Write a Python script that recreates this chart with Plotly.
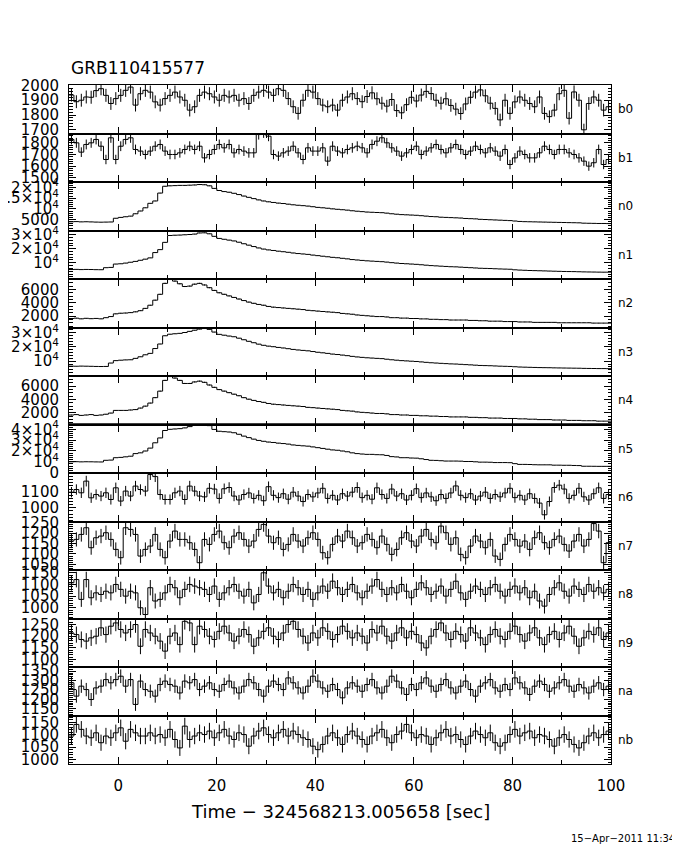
import numpy as np
import plotly.graph_objects as go
from plotly.subplots import make_subplots

# ---------------- text ----------------
title_text = "GRB110415577"
x_title = "Time − 324568213.005658 [sec]"
date_stamp = "15−Apr−2011 11:34"

# ---------------- time binning ----------------
bin_start = -10.0
bin_width = 1.0

# ---------------- counts per 1-s bin, one list per detector ----------------
b0_counts = [1935, 1890, 1900, 1922, 1920, 1965, 1978, 1933, 1878, 1911,
             1933, 1967, 1989, 1867, 1944, 1967, 1955, 1889, 1867, 1911,
             1933, 1955, 1922, 1900, 1833, 1856, 1933, 1955, 1944, 1922,
             1900, 1933, 1922, 1933, 1900, 1911, 1878, 1933, 1955, 1967,
             1955, 1933, 1978, 1967, 1911, 1856, 1811, 1900, 1967, 1955,
             1911, 1867, 1856, 1867, 1833, 1900, 1922, 1944, 1911, 1890,
             1925, 1950, 1910, 1880, 1860, 1905, 1830, 1815, 1870, 1920,
             1895, 1935, 1960, 1945, 1900, 1880, 1910, 1865, 1840, 1810,
             1875, 1920, 1955, 1970, 1930, 1880, 1845, 1767, 1900, 1811,
             1889, 1922, 1900, 1878, 1856, 1922, 1811, 1789, 1833, 1944,
             1967, 1778, 1956, 1900, 1700, 1878, 1922, 1900, 1833, 1856]
b1_counts = [1829, 1800, 1720, 1786, 1800, 1829, 1771, 1657, 1843, 1657,
             1771, 1829, 1843, 1743, 1729, 1700, 1729, 1771, 1786, 1729,
             1700, 1700, 1714, 1743, 1771, 1743, 1771, 1671, 1700, 1743,
             1786, 1757, 1786, 1714, 1743, 1729, 1714, 1714, 1871, 1886,
             1857, 1700, 1686, 1714, 1729, 1771, 1714, 1657, 1757, 1729,
             1729, 1757, 1643, 1771, 1729, 1714, 1743, 1757, 1771, 1757,
             1714, 1786, 1814, 1843, 1800, 1757, 1729, 1686, 1714, 1743,
             1771, 1700, 1729, 1757, 1786, 1743, 1714, 1757, 1786, 1743,
             1700, 1729, 1771, 1743, 1714, 1757, 1729, 1686, 1743, 1614,
             1671, 1729, 1700, 1671, 1671, 1714, 1771, 1743, 1700, 1743,
             1743, 1714, 1700, 1671, 1643, 1600, 1629, 1743, 1614, 1657]
n0_counts = [3940, 4030, 3900, 3960, 3880, 3800, 3760, 3800, 3850, 5600,
             6000, 6300, 6600, 7700, 9000, 10500, 12600, 13700, 17400, 20600,
             20800, 20900, 21000, 21000, 21100, 21200, 21400, 21300, 20800, 19600,
             18600, 18100, 17800, 17300, 16700, 16000, 15400, 14800, 14200, 13700,
             13300, 13000, 12700, 12500, 12200, 11900, 11700, 11500, 11300, 11000,
             10700, 10500, 10300, 10000, 9800, 9600, 9400, 9100, 8900, 8700,
             8500, 8400, 8300, 8200, 8000, 7700, 7500, 7300, 7200, 7100,
             7000, 6800, 6600, 6400, 6300, 6100, 6000, 5900, 5800, 5700,
             5500, 5400, 5300, 5100, 5000, 4900, 4800, 4700, 4600, 4500,
             4300, 4100, 4000, 3950, 3900, 3850, 3800, 3750, 3700, 3650,
             3600, 3550, 3500, 3450, 3300, 3250, 3200, 3150, 3150, 3100]
n1_counts = [5200, 5300, 5150, 5250, 5200, 5100, 5050, 6500, 6700, 9100,
             9300, 9800, 10400, 11000, 11800, 12600, 13500, 17300, 19400, 24600,
             29500, 29700, 29800, 30000, 30200, 30500, 31300, 31400, 30700, 28900,
             27400, 26800, 26200, 25600, 24700, 23600, 22600, 21600, 20600, 19800,
             19200, 18800, 18300, 17900, 17500, 17000, 16600, 16300, 16000, 15500,
             15100, 14700, 14300, 13900, 13600, 13200, 12800, 12300, 12000, 11700,
             11400, 11200, 11000, 10800, 10500, 10100, 9800, 9500, 9300, 9100,
             8900, 8600, 8300, 8000, 7800, 7600, 7400, 7200, 7100, 6900,
             6700, 6500, 6300, 6100, 6000, 5900, 5750, 5600, 5500, 5400,
             5000, 4800, 4650, 4500, 4400, 4300, 4200, 4100, 4000, 3900,
             3800, 3750, 3700, 3600, 3500, 3450, 3400, 3350, 3300, 3300]
n2_counts = [1650, 1700, 1600, 1680, 1620, 1660, 1600, 1770, 1940, 2350,
             2440, 2470, 2530, 2650, 2820, 3170, 3640, 4400, 5280, 6920,
             7500, 7260, 6860, 6450, 6510, 6800, 6920, 6680, 6270, 5860,
             5510, 5280, 5040, 4810, 4570, 4340, 4110, 3930, 3760, 3640,
             3460, 3350, 3290, 3230, 3170, 3110, 3050, 2990, 2880, 2820,
             2760, 2700, 2640, 2590, 2530, 2410, 2350, 2290, 2180, 2120,
             2060, 2000, 1940, 1940, 1880, 1770, 1770, 1710, 1710, 1650,
             1650, 1590, 1590, 1530, 1530, 1480, 1480, 1420, 1420, 1420,
             1420, 1360, 1360, 1310, 1310, 1250, 1250, 1250, 1190, 1190,
             1190, 1130, 1130, 1130, 1070, 1070, 1070, 1070, 1070, 1010,
             1010, 1010, 1010, 1010, 1010, 1010, 960, 960, 960, 960]
n3_counts = [6500, 6450, 6550, 6480, 6400, 6300, 6250, 6300, 8700, 10400,
             10700, 10900, 11000, 12000, 13100, 14500, 15500, 18900, 22100, 27900,
             29000, 29300, 29600, 30200, 31000, 31800, 32600, 33000, 32400, 30500,
             28900, 28300, 27700, 27200, 26200, 25100, 24000, 23000, 22000, 21200,
             20600, 20200, 19700, 19300, 18800, 18300, 17900, 17600, 17300, 16800,
             16300, 15900, 15500, 15000, 14700, 14300, 13900, 13400, 13000, 12700,
             12400, 12200, 12000, 11800, 11400, 11000, 10700, 10400, 10200, 10000,
             9800, 9500, 9200, 8900, 8700, 8500, 8300, 8100, 8000, 7800,
             7600, 7400, 7200, 7000, 6900, 6800, 6650, 6500, 6400, 6300,
             6100, 5900, 5800, 5700, 5600, 5500, 5450, 5400, 5300, 5250,
             5200, 5150, 5100, 5050, 4950, 4900, 4850, 4800, 4800, 4750]
n4_counts = [1680, 1740, 1620, 1680, 1740, 1620, 1680, 1795, 1970, 2370,
             2370, 2370, 2430, 2490, 2720, 3010, 3470, 4280, 5260, 6870,
             7450, 7220, 6870, 6410, 6410, 6640, 6760, 6580, 6180, 5830,
             5490, 5260, 5030, 4800, 4570, 4280, 4050, 3870, 3700, 3580,
             3410, 3300, 3240, 3180, 3120, 3060, 3010, 2950, 2830, 2780,
             2720, 2660, 2600, 2550, 2490, 2370, 2310, 2260, 2140, 2080,
             2030, 1970, 1910, 1910, 1850, 1740, 1740, 1680, 1680, 1620,
             1620, 1560, 1560, 1510, 1510, 1450, 1450, 1390, 1390, 1390,
             1390, 1330, 1330, 1280, 1280, 1220, 1220, 1220, 1160, 1160,
             1160, 1100, 1100, 1050, 1050, 990, 990, 990, 930, 930,
             930, 870, 870, 870, 820, 820, 820, 760, 760, 760]
n5_counts = [9900, 10000, 9850, 9950, 9900, 9800, 9750, 11300, 11500, 13700,
             14000, 14500, 15100, 17500, 18200, 19900, 22600, 27500, 32000, 38900,
             40000, 40300, 40600, 41300, 42500, 43800, 44300, 44400, 43400, 39900,
             38200, 37800, 37500, 36800, 35400, 33700, 32300, 30900, 29700, 28900,
             28200, 27800, 27200, 26800, 26300, 25500, 25100, 24700, 24400, 23700,
             23000, 22300, 21600, 20900, 20600, 19900, 19200, 18200, 17500, 17100,
             16800, 16800, 16500, 16400, 15800, 14700, 14400, 13700, 13700, 13400,
             13300, 12700, 12000, 11300, 11200, 10900, 10600, 10600, 10600, 10500,
             10200, 10200, 9900, 9600, 9600, 9500, 9200, 9200, 9200, 9100,
             8200, 7500, 7500, 7400, 7200, 7100, 7100, 7100, 6800, 6800,
             6700, 6700, 6500, 6400, 5800, 5800, 5750, 5700, 5700, 5700]
n6_counts = [1100, 1117, 1096, 1171, 1064, 1085, 1075, 1096, 1053, 1128,
             1043, 1107, 1075, 1139, 1117, 1107, 1213, 1200, 1085, 1053,
             1053, 1096, 1107, 1053, 1139, 1107, 1075, 1070, 1125, 1120,
             1060, 1122, 1130, 1075, 1050, 1085, 1095, 1060, 1080, 1045,
             1135, 1080, 1065, 1090, 1055, 1100, 1075, 1040, 1085, 1070,
             1095, 1125, 1060, 1080, 1050, 1090, 1075, 1100, 1130, 1065,
             1080, 1055, 1128, 1085, 1060, 1120, 1075, 1090, 1050, 1080,
             1122, 1065, 1095, 1070, 1045, 1085, 1060, 1095, 1140, 1080,
             1065, 1090, 1050, 1075, 1100, 1060, 1085, 1070, 1095, 1125,
             1065, 1080, 1050, 1090, 1060, 1030, 955, 1040, 1130, 1145,
             1120, 1060, 1080, 1125, 1070, 1050, 1090, 1128, 1060, 1085]
n7_counts = [1162, 1170, 1194, 1226, 1130, 1178, 1186, 1202, 1170, 1122,
             1082, 1226, 1218, 1194, 1090, 1122, 1138, 1194, 1122, 1082,
             1162, 1210, 1170, 1170, 1154, 1122, 1058, 1170, 1146, 1194,
             1210, 1154, 1130, 1186, 1202, 1170, 1138, 1162, 1218, 1242,
             1186, 1154, 1178, 1122, 1146, 1194, 1162, 1138, 1178, 1202,
             1170, 1106, 1082, 1146, 1186, 1162, 1210, 1178, 1138, 1154,
             1194, 1170, 1130, 1186, 1146, 1098, 1122, 1178, 1202, 1162,
             1138, 1186, 1218, 1170, 1154, 1234, 1202, 1146, 1178, 1098,
             1082, 1138, 1186, 1162, 1130, 1170, 1090, 1074, 1146, 1194,
             1170, 1138, 1162, 1122, 1178, 1202, 1154, 1130, 1170, 1186,
             1146, 1114, 1162, 1194, 1138, 1170, 1246, 1210, 1058, 1154]
n8_counts = [1107, 1121, 1036, 1121, 1043, 1064, 1057, 1071, 1064, 1100,
             1079, 1050, 1071, 1064, 1000, 971, 1086, 1029, 1036, 1064,
             1100, 1086, 1043, 1079, 1100, 1093, 1086, 1079, 1057, 1093,
             1036, 1064, 1086, 1100, 1071, 1050, 1079, 1021, 1057, 1150,
             1093, 1064, 1079, 1043, 1071, 1100, 1086, 1057, 1079, 1036,
             1064, 1093, 1071, 1114, 1086, 1057, 1079, 1100, 1064, 1043,
             1071, 1093, 1121, 1079, 1057, 1086, 1064, 1100, 1071, 1043,
             1079, 1107, 1086, 1057, 1071, 1093, 1050, 1079, 1114, 1064,
             1036, 1071, 1093, 1079, 1057, 1086, 1100, 1071, 1050, 1079,
             1093, 1064, 1086, 1043, 1071, 1029, 1007, 1057, 1086, 1107,
             1071, 1050, 1093, 1079, 1057, 1100, 1071, 1086, 1064, 1079]
n9_counts = [1214, 1207, 1186, 1179, 1193, 1200, 1236, 1207, 1243, 1257,
             1229, 1214, 1229, 1250, 1157, 1229, 1214, 1200, 1179, 1136,
             1200, 1214, 1164, 1264, 1257, 1164, 1243, 1229, 1200, 1186,
             1221, 1243, 1214, 1179, 1200, 1229, 1207, 1157, 1193, 1221,
             1236, 1200, 1186, 1214, 1250, 1264, 1229, 1200, 1171, 1214,
             1193, 1236, 1221, 1186, 1207, 1243, 1221, 1193, 1214, 1200,
             1171, 1229, 1214, 1243, 1200, 1179, 1214, 1236, 1193, 1221,
             1207, 1171, 1150, 1200, 1229, 1257, 1214, 1186, 1221, 1207,
             1179, 1236, 1214, 1193, 1164, 1207, 1229, 1200, 1186, 1221,
             1243, 1207, 1179, 1214, 1236, 1193, 1164, 1207, 1221, 1186,
             1214, 1243, 1200, 1157, 1193, 1221, 1207, 1236, 1186, 1214]
na_counts = [1288, 1217, 1270, 1252, 1199, 1261, 1270, 1305, 1288, 1305,
             1323, 1270, 1305, 1173, 1297, 1252, 1243, 1217, 1279, 1297,
             1279, 1270, 1234, 1297, 1288, 1305, 1252, 1270, 1288, 1252,
             1243, 1279, 1297, 1261, 1234, 1270, 1305, 1288, 1252, 1217,
             1270, 1297, 1279, 1252, 1314, 1288, 1261, 1234, 1270, 1323,
             1297, 1261, 1243, 1279, 1252, 1208, 1261, 1288, 1270, 1243,
             1279, 1305, 1261, 1234, 1270, 1323, 1297, 1261, 1226, 1279,
             1252, 1288, 1314, 1270, 1243, 1279, 1305, 1261, 1234, 1270,
             1297, 1252, 1217, 1270, 1288, 1305, 1261, 1243, 1279, 1252,
             1314, 1288, 1261, 1226, 1270, 1297, 1279, 1243, 1261, 1288,
             1305, 1270, 1243, 1279, 1261, 1234, 1270, 1288, 1252, 1270]
nb_counts = [1095, 1142, 1122, 1095, 1088, 1108, 1068, 1095, 1088, 1108,
             1128, 1074, 1122, 1108, 1095, 1095, 1108, 1095, 1101, 1088,
             1122, 1081, 1047, 1135, 1081, 1095, 1108, 1101, 1115, 1088,
             1108, 1122, 1095, 1081, 1108, 1101, 1054, 1095, 1115, 1128,
             1101, 1088, 1108, 1122, 1095, 1115, 1101, 1088, 1081, 1054,
             1040, 1061, 1095, 1108, 1088, 1061, 1101, 1115, 1095, 1081,
             1061, 1095, 1108, 1122, 1088, 1068, 1101, 1115, 1142, 1108,
             1088, 1101, 1095, 1061, 1088, 1108, 1122, 1095, 1101, 1081,
             1061, 1095, 1115, 1101, 1088, 1108, 1068, 1054, 1068, 1101,
             1122, 1095, 1108, 1115, 1088, 1101, 1095, 1081, 1054, 1088,
             1101, 1081, 1061, 1047, 1068, 1095, 1108, 1088, 1101, 1115]

detector_names = ["b0", "b1", "n0", "n1", "n2", "n3", "n4", "n5",
                  "n6", "n7", "n8", "n9", "na", "nb"]
detector_counts = [b0_counts, b1_counts, n0_counts, n1_counts, n2_counts,
                   n3_counts, n4_counts, n5_counts, n6_counts, n7_counts,
                   n8_counts, n9_counts, na_counts, nb_counts]

# ---------------- axis ticks per panel ----------------
E4 = "×10<sup>4</sup>"
y_ranges = [[1675, 2003], [1464, 1880], [-140, 22590], [-1570, 33060],
            [300, 7575], [-420, 33720], [255, 7530], [-460, 44450],
            [912, 1223], [1023, 1256], [954, 1162], [1068, 1276],
            [1114, 1372], [982, 1178]]
y_tickvals = [[1700, 1800, 1900, 2000], [1500, 1600, 1700, 1800],
              [5000, 10000, 15000, 20000], [10000, 20000, 30000],
              [2000, 4000, 6000], [10000, 20000, 30000], [2000, 4000, 6000],
              [0, 10000, 20000, 30000, 40000], [1000, 1100],
              [1050, 1100, 1150, 1200, 1250], [1000, 1050, 1100, 1150],
              [1100, 1150, 1200, 1250], [1150, 1200, 1250, 1300, 1350],
              [1000, 1050, 1100, 1150]]
y_ticktext = [["1700", "1800", "1900", "2000"], ["1500", "1600", "1700", "1800"],
              ["5000", "10<sup>4</sup>", "1.5" + E4, "2" + E4],
              ["10<sup>4</sup>", "2" + E4, "3" + E4],
              ["2000", "4000", "6000"],
              ["10<sup>4</sup>", "2" + E4, "3" + E4],
              ["2000", "4000", "6000"],
              ["0", "10<sup>4</sup>", "2" + E4, "3" + E4, "4" + E4],
              ["1000", "1100"],
              ["1050", "1100", "1150", "1200", "1250"],
              ["1000", "1050", "1100", "1150"],
              ["1100", "1150", "1200", "1250"],
              ["1150", "1200", "1250", "1300", "1350"],
              ["1000", "1050", "1100", "1150"]]
y_minor = [20, 20, 1000, 2000, 500, 2000, 500, 2000, 20, 10, 10, 10, 10, 10]

n_panels = len(detector_names)
n_bins = len(b0_counts)
edges = bin_start + bin_width * np.arange(n_bins + 1)
centers = edges[:-1] + bin_width / 2.0

FONT = "DejaVu Sans"
fig = make_subplots(rows=n_panels, cols=1, shared_xaxes=True, vertical_spacing=0)

for k, (name, vals) in enumerate(zip(detector_names, detector_counts)):
    r = k + 1
    v = np.asarray(vals, dtype=float)
    fig.add_trace(go.Scatter(x=edges, y=np.append(v, v[-1]), mode="lines",
                             line=dict(shape="hv", color="black", width=1),
                             hoverinfo="skip"), row=r, col=1)
    fig.add_trace(go.Scatter(x=centers, y=v, mode="markers",
                             marker=dict(size=2, color="rgba(0,0,0,0)",
                                         line=dict(width=0)),
                             error_y=dict(type="data", array=np.sqrt(v), width=0,
                                          thickness=1, color="black"),
                             hoverinfo="skip"), row=r, col=1)
    fig.update_yaxes(range=y_ranges[k], tickmode="array", tickvals=y_tickvals[k],
                     ticktext=y_ticktext[k], ticks="inside", ticklen=7,
                     tickcolor="black", mirror="ticks", showline=True,
                     linecolor="black", linewidth=1, showgrid=False, zeroline=False,
                     automargin=False,
                     tickfont=dict(family=FONT, size=15, color="black"),
                     ticklabelstandoff=6,
                     minor=dict(tickmode="linear", tick0=0, dtick=y_minor[k],
                                ticks="inside", ticklen=3.5, tickcolor="black"),
                     row=r, col=1)
    yref = "y domain" if r == 1 else "y%d domain" % r
    fig.add_annotation(text=name, xref="paper", x=1, xanchor="left", xshift=5,
                       yref=yref, y=0.5, yanchor="middle", showarrow=False,
                       font=dict(family=FONT, size=12, color="black"))

fig.update_xaxes(range=[-10, 100], tickmode="linear", tick0=0, dtick=20,
                 ticks="inside", ticklen=7, tickcolor="black", mirror="ticks",
                 showline=True, linecolor="black", linewidth=1, showgrid=False,
                 zeroline=False, automargin=False,
                 minor=dict(tickmode="linear", tick0=0, dtick=10, ticks="inside",
                            ticklen=4, tickcolor="black"),
                 tickfont=dict(family=FONT, size=15, color="black"))
fig.update_xaxes(showticklabels=True, ticklabelstandoff=8, row=n_panels, col=1)

# thicker boundary on top of the n5 panel
fig.add_shape(type="line", xref="paper", x0=0, x1=1, yref="y8 domain", y0=1, y1=1,
              line=dict(color="black", width=2.5))

fig.add_annotation(text=title_text, xref="paper", x=0, xanchor="left",
                   yref="paper", y=1.025, yanchor="middle", showarrow=False,
                   font=dict(family=FONT, size=17, color="black"))
fig.add_annotation(text=x_title, xref="paper", x=0.5, xanchor="center",
                   yref="paper", y=-0.07, yanchor="middle", showarrow=False,
                   font=dict(family=FONT, size=18, color="black"))
fig.add_annotation(text=date_stamp, xref="paper", x=1.122, xanchor="right",
                   yref="paper", y=-0.109, yanchor="middle", showarrow=False,
                   font=dict(family=FONT, size=10, color="black"))

# the page adds an 8 px body margin, so the figure is 8 px smaller and the
# left/top margins are 8 px smaller to keep the frame where the reference has it
fig.update_layout(width=672, height=842, autosize=False, showlegend=False,
                  paper_bgcolor="white", plot_bgcolor="white",
                  margin=dict(l=61, r=69, t=77, b=86, autoexpand=False),
                  hovermode=False)

fig.write_html("out.html")
